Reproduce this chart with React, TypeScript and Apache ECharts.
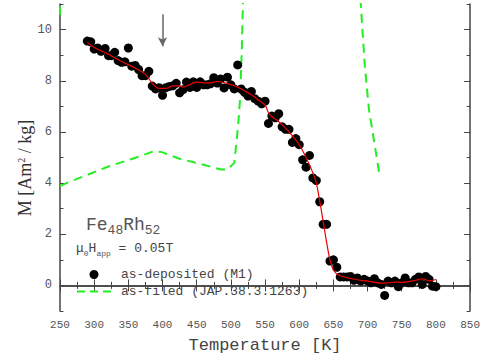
import React, { useEffect, useRef } from "react";
import * as echarts from "echarts";

// as-deposited (M1) measured points
const depT = [290,295,300,305,310,316,321,325,330,335,340,345,350,355,360,365,370,375,380,385,390,395,400,405,410,415,420,425,430,435,440,445,450,455,460,465,470,475,480,485,490,495,500,505,510,515,520,525,530,535,540,545,550,555,560,565,570,575,580,585,590,595,600,605,610,615,620,625,630,635,640,645,650,655,660,665,670,675,680,685,690,695,700,705,710,715,720,725,730,735,740,745,750,755,760,765,770,775,780,785,790,795,800];
const depM = [9.55,9.52,9.24,9.28,9.15,9.26,8.98,8.98,9.11,8.79,8.72,8.74,9.28,8.57,8.6,8.44,8.2,8.2,8.37,7.79,7.68,7.73,7.43,7.73,7.78,7.8,7.9,7.53,7.65,7.95,7.74,7.96,7.74,7.96,7.84,7.84,7.88,8.12,7.91,8.07,7.72,8.14,7.84,7.68,8.62,7.68,7.55,7.4,7.58,7.3,7.2,7.1,7.2,6.33,6.62,6.55,6.71,6.2,6.1,6.1,5.59,5.74,5.5,4.91,4.62,5.08,4.2,4.1,3.27,2.39,2.39,0.95,1.0,0.71,0.33,0.33,0.33,0.35,0.2,0.29,0.17,0.24,0.17,0.1,0.26,0.1,0.04,-0.39,0.17,0.1,0.17,-0.05,0.1,0.29,0.1,0.1,0.24,0.33,0.04,0.35,0.24,-0.03,-0.05];

// smooth fit (red)
const fitT = [290,300,320,340,360,375,385,395,405,415,425,430,440,450,460,470,480,490,500,510,520,530,540,550,555,560,570,580,590,600,610,620,625,630,635,640,645,650,655,660,670,680,690,700,710,720,730,740,750,760,770,780,790,800];
const fitM = [9.5,9.3,9.05,8.75,8.5,8.25,7.9,7.7,7.7,7.8,7.8,7.75,7.85,7.95,7.92,7.92,7.97,7.93,7.85,7.75,7.6,7.45,7.25,7.05,6.75,6.6,6.4,6.15,5.85,5.5,5.0,4.4,4.0,3.3,2.5,1.7,1.0,0.6,0.45,0.38,0.3,0.25,0.2,0.17,0.12,0.09,0.1,0.13,0.12,0.15,0.2,0.26,0.18,0.23];

// as-filed (JAP.38.3.1263) dashed curve, three visible pieces
const filedT1 = [249.6, 250.2];
const filedM1 = [11.5, 10.55];
const filedT2 = [250,262,288,322,356,388,399,425,452,486,495,505,510.5,513.4,516,517.4,518];
const filedM2 = [3.88,4.03,4.3,4.66,4.95,5.25,5.21,4.95,4.77,4.53,4.53,4.79,6.22,7.27,9.22,10.78,11.5];
const filedT3 = [689.5,696,702,711.5,717];
const filedM3 = [11.2,8.57,6.88,5.31,4.4];

const xTicks = { min: 250, max: 850, interval: 50 };
const yMajor = [0, 2, 4, 6, 8, 10];
const yMinor = [-1, 1, 3, 5, 7, 9, 11];

const zip = (a: number[], b: number[]) => a.map((v, i) => [v, b[i]]);

const MONO = "Liberation Mono";
const SERIF = "Liberation Serif";
const AX = "#444";
const GREEN = "#22ee22";
const DASH = [9, 6];

export default function App() {
  const ref = useRef<HTMLDivElement>(null);
  useEffect(() => {
    if (!ref.current) return;
    const chart = echarts.init(ref.current, undefined, { renderer: "svg" });
    const yBase = (pos: "left" | "right", ticks: number[], len: number, line: boolean, labels: boolean) => ({
      type: "value",
      position: pos,
      min: -1,
      max: 11,
      axisLine: { show: line, lineStyle: { color: AX, width: 1.5 } },
      axisTick: { show: true, inside: true, length: len, customValues: ticks, lineStyle: { color: AX, width: 1 } },
      axisLabel: labels
        ? { show: true, customValues: yMajor, fontFamily: MONO, fontSize: 12, color: "#555", margin: 8 }
        : { show: false },
      splitLine: { show: false },
    });
    const xBase = (pos: "top" | "bottom", labels: boolean) => ({
      type: "value",
      position: pos,
      min: xTicks.min,
      max: xTicks.max,
      interval: xTicks.interval,
      name: labels ? "Temperature [K]" : undefined,
      nameLocation: "middle",
      nameGap: 26,
      nameTextStyle: { fontFamily: MONO, fontSize: 17, color: "#444" },
      axisLine: { show: true, lineStyle: { color: AX, width: 1.5 } },
      axisTick: { show: true, inside: true, length: 6, lineStyle: { color: AX, width: 1 } },
      minorTick: { show: true, splitNumber: 2, length: 3.5, lineStyle: { color: AX, width: 1 } },
      axisLabel: labels ? { show: true, fontFamily: MONO, fontSize: 11, color: "#555", margin: 8 } : { show: false },
      splitLine: { show: false },
      minorSplitLine: { show: false },
    });
    const filedSeries = (t: number[], m: number[]) => ({
      name: "as-filed (JAP.38.3.1263)",
      type: "line",
      data: zip(t, m),
      symbol: "none",
      showSymbol: false,
      lineStyle: { color: GREEN, width: 2, type: DASH },
      itemStyle: { color: GREEN },
      z: 1,
    });
    chart.setOption({
      animation: false,
      backgroundColor: "#fff",
      grid: { left: 60, right: 7, top: 4, bottom: 51, containLabel: false },
      xAxis: [xBase("bottom", true), xBase("top", false)],
      yAxis: [
        yBase("left", yMajor, 6, true, true),
        yBase("left", yMinor, 3.5, false, false),
        yBase("right", yMajor, 6, true, false),
        yBase("right", yMinor, 3.5, false, false),
      ],
      legend: {
        data: [
          { name: "as-deposited (M1)", icon: "circle" },
          {
            name: "as-filed (JAP.38.3.1263)",
            itemStyle: { opacity: 0 },
            lineStyle: { color: GREEN, width: 2, type: [8, 5] },
          },
        ],
        orient: "vertical",
        left: 76,
        top: 268,
        itemWidth: 34,
        itemHeight: 9,
        itemGap: 4,
        padding: 0,
        selectedMode: false,
        textStyle: { fontFamily: MONO, fontSize: 13, color: "#444", padding: [0, 0, 0, 5] },
      },
      graphic: [
        {
          type: "text",
          x: 25,
          y: 168,
          rotation: Math.PI / 2,
          style: {
            text: "M [Am{sup|2} / kg]",
            fontFamily: SERIF,
            fontSize: 18,
            fill: "#333",
            align: "center",
            verticalAlign: "middle",
            rich: { sup: { fontFamily: SERIF, fontSize: 10, fill: "#333", padding: [0, 0, 8, 0] } },
          },
        },
        {
          type: "text",
          left: 86,
          top: 216,
          style: {
            text: "Fe{sub|48}Rh{sub|52}",
            fontFamily: MONO,
            fontSize: 18,
            fill: "#555",
            rich: { sub: { fontFamily: MONO, fontSize: 13, fill: "#555", padding: [10, 0, 0, 0] } },
          },
        },
        {
          type: "text",
          left: 76,
          top: 242,
          style: {
            text: "μ{sub|0}H{sub|app} = 0.05T",
            fontFamily: MONO,
            fontSize: 13,
            fill: "#444",
            rich: { sub: { fontFamily: MONO, fontSize: 8, fill: "#555", padding: [9, 0, 0, 0] } },
          },
        },
      ],
      series: [
        filedSeries(filedT2, filedM2),
        filedSeries(filedT1, filedM1),
        filedSeries(filedT3, filedM3),
        {
          name: "as-deposited (M1)",
          type: "scatter",
          data: zip(depT, depM),
          symbol: "circle",
          symbolSize: 9,
          itemStyle: { color: "#000", opacity: 1 },
          z: 2,
          markLine: {
            silent: true,
            symbol: ["none", "arrow"],
            symbolSize: [7, 9],
            label: { show: false },
            lineStyle: { color: "#666", width: 1.5, type: "solid" },
            data: [[{ coord: [400, 10.6] }, { coord: [400, 9.35] }]],
          },
        },
        {
          name: "fit",
          type: "line",
          data: zip(fitT, fitM),
          smooth: 0.4,
          symbol: "none",
          showSymbol: false,
          lineStyle: { color: "#ee0000", width: 1.2 },
          z: 3,
        },
      ],
    });
    return () => chart.dispose();
  }, []);
  return <div ref={ref} style={{ width: 483, height: 362, position: "absolute", left: 0, top: 0 }} />;
}
